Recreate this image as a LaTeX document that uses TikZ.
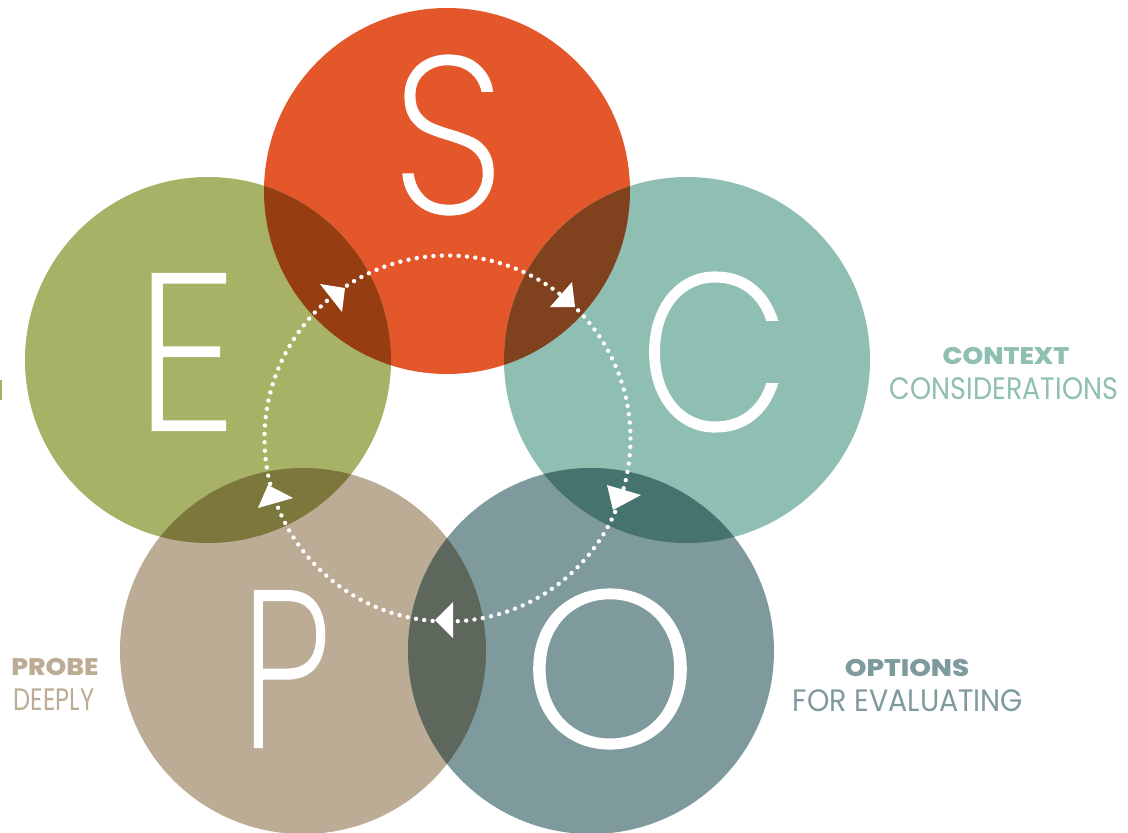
\documentclass[tikz,border=0pt]{standalone}
\usepackage{fontspec}
\setmainfont{Poppins}
\newfontfamily\bigfont{Poppins ExtraLight}[FakeBold=1]
\newfontfamily\heavyfont{Poppins ExtraBold}
\definecolor{cS}{HTML}{E4572B}
\definecolor{cE}{HTML}{A8B267}
\definecolor{cC}{HTML}{8FBEB3}
\definecolor{cO}{HTML}{7E9A9D}
\definecolor{cP}{HTML}{BCAC95}
\definecolor{cSE}{HTML}{963D11}
\definecolor{cSC}{HTML}{80411E}
\definecolor{cCO}{HTML}{47736E}
\definecolor{cOP}{HTML}{5D675B}
\definecolor{cPE}{HTML}{7C783C}
\tikzset{
  letter/.style={text=white, inner sep=0pt, font=\bigfont\fontsize{222}{222}\selectfont},
  arrowtri/.style={fill=white, draw=none},
  boldlab/.style={inner sep=0pt, font=\heavyfont\fontsize{24}{24}\selectfont},
  reglab/.style={inner sep=0pt, font=\fontsize{31}{31}\selectfont},
}
\begin{document}
\begin{tikzpicture}[x=1pt,y=-1pt]
\useasboundingbox (0,0) rectangle (1128,833);
\def\R{183}
\coordinate (S) at (447,191);
\coordinate (E) at (208,360);
\coordinate (C) at (687,360);
\coordinate (P) at (303,651);
\coordinate (O) at (591,651);
\fill[cS] (S) circle[radius=\R];
\fill[cE] (E) circle[radius=\R];
\fill[cC] (C) circle[radius=\R];
\fill[cP] (P) circle[radius=\R];
\fill[cO] (O) circle[radius=\R];
\begin{scope}\clip (S) circle[radius=\R]; \fill[cSE] (E) circle[radius=\R]; \fill[cSC] (C) circle[radius=\R];\end{scope}
\begin{scope}\clip (O) circle[radius=\R]; \fill[cCO] (C) circle[radius=\R]; \fill[cOP] (P) circle[radius=\R];\end{scope}
\begin{scope}\clip (P) circle[radius=\R]; \fill[cPE] (E) circle[radius=\R];\end{scope}
% big letters
\node[letter] (lS) at (448,135) {\scalebox{0.9}[1]{S}};
\node[letter] (lE) at (186,352) {\scalebox{0.92}[1]{E}};
\node[letter] (lC) at (714,352) {\scalebox{0.87}[1]{C}};
\node[letter] (lP) at (286,669) {\scalebox{0.74}[1]{P}};
\node[letter] (lO) at (610,669) {O};
% dotted cycle
\coordinate (M) at (447.5,438.5);
\draw[white, line width=4.4pt, line cap=round, dash pattern=on 0pt off 8.4pt] (M) circle[radius=183];
% arrowheads
\fill[arrowtri] (320,284) -- (345,288) -- (342,312) -- cycle;
\fill[arrowtri] (572,282) -- (575,307) -- (550,307) -- cycle;
\fill[arrowtri] (607,485) -- (641,495) -- (613,510) -- cycle;
\fill[arrowtri] (268,485) -- (293,498) -- (258,508) -- cycle;
\fill[arrowtri] (453,602) -- (435,620) -- (453,638) -- cycle;
% side labels
\node[boldlab, text=cC] (t1) at (1006,356) {\scalebox{1.1}[1]{CONTEXT}};
\node[reglab, text=cC] (t2) at (1004,389) {\scalebox{0.87}[1]{CONSIDERATIONS}};
\node[boldlab, text=cO] (t3) at (907,668) {\scalebox{1.15}[1]{OPTIONS}};
\node[reglab, text=cO] (t4) at (908,701) {\scalebox{0.92}[1]{FOR EVALUATING}};
\node[boldlab, text=cP] (t5) at (55,667) {\scalebox{1.1}[1]{PROBE}};
\node[reglab, text=cP] (t6) at (54,700) {\scalebox{0.78}[1]{DEEPLY}};
\fill[cE] (0,380) rectangle (2,400);
\end{tikzpicture}
\end{document}
